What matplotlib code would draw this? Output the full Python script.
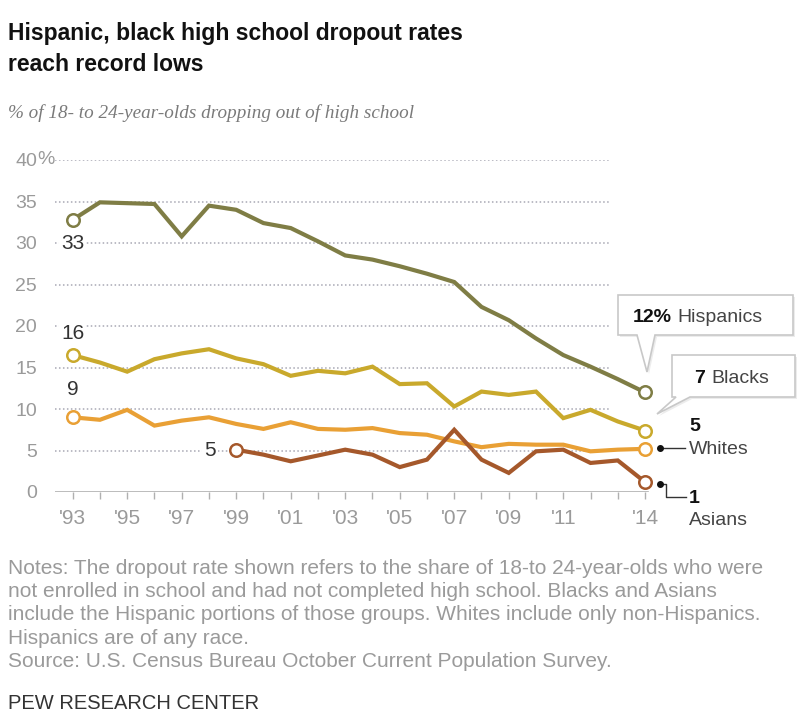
import numpy as np
import matplotlib
matplotlib.use("Agg")
import matplotlib.pyplot as plt
from matplotlib.patches import Polygon

W, H = 806, 715

years = list(range(1993, 2015))
hispanic = [32.8, 34.9, 34.8, 34.7, 30.8, 34.5, 34.0, 32.4, 31.8, 30.2, 28.5,
            28.0, 27.2, 26.3, 25.3, 22.3, 20.7, 18.5, 16.5, 15.1, 13.6, 12.0]
black = [16.5, 15.6, 14.5, 16.0, 16.7, 17.2, 16.1, 15.4, 14.0, 14.6, 14.3,
         15.1, 13.0, 13.1, 10.3, 12.1, 11.7, 12.1, 8.9, 9.9, 8.5, 7.4]
white = [9.0, 8.7, 9.9, 8.0, 8.6, 9.0, 8.2, 7.6, 8.4, 7.6, 7.5,
         7.7, 7.1, 6.9, 6.1, 5.4, 5.8, 5.7, 5.7, 4.9, 5.1, 5.2]
asian_years = list(range(1999, 2015))
asian = [5.1, 4.5, 3.7, 4.4, 5.1, 4.5, 3.0, 3.9, 7.5, 3.9, 2.3, 4.9, 5.1, 3.5, 3.8, 1.2]

yticks = [0, 5, 10, 15, 20, 25, 30, 35, 40]
xlabel_years = [1993, 1995, 1997, 1999, 2001, 2003, 2005, 2007, 2009, 2011, 2014]

c_hisp = "#7f7d45"
c_black = "#c9a92c"
c_white = "#e9a035"
c_asian = "#a5582b"

plt.rcParams["font.family"] = ["Liberation Sans", "DejaVu Sans"]


def px(x, y):
    # pixel position (top-left origin) -> figure fraction
    return x / W, 1 - y / H


def main():
    fig = plt.figure(figsize=(W / 100, H / 100), dpi=100)
    ax = fig.add_axes([55 / W, 1 - 492 / H, (660 - 55) / W, (492 - 160) / H])
    ax.set_xlim(1993 - 17.7 / 27.3, 2014 + 15 / 27.3)
    ax.set_ylim(0, 40)
    for s in ax.spines.values():
        s.set_visible(False)

    # dotted grid lines, stop before the last year
    for v in yticks[1:]:
        ax.plot([1992.35, 2012.7], [v, v], color="#a8a8b4", lw=1.1,
                linestyle=(0, (1, 1.6)), zorder=1)
    ax.plot([1992.35, 2014.1], [0, 0], color="#b0b0b0", lw=1.2, zorder=1)

    ax.set_yticks(yticks)
    ax.set_yticklabels([str(v) for v in yticks])
    ax.tick_params(axis="y", length=0, pad=13, labelsize=14, labelcolor="#9a9a9a")
    ax.text(-18 / 605, 40, "%", transform=ax.get_yaxis_transform(),
            ha="left", va="center", fontsize=14, color="#9a9a9a")

    ax.set_xticks(years)
    ax.set_xticklabels(["'" + str(y)[2:] if y in xlabel_years else "" for y in years])
    ax.tick_params(axis="x", length=5, width=1, color="#b0b0b0", pad=7,
                   labelsize=15, labelcolor="#9a9a9a")

    series = [(years, white, c_white, 2), (asian_years, asian, c_asian, 3),
              (years, black, c_black, 4), (years, hispanic, c_hisp, 5)]
    for xs, ys, col, z in series:
        ax.plot(xs, ys, color=col, lw=3, solid_joinstyle="miter", zorder=z, clip_on=False)
        ax.plot([xs[0], xs[-1]], [ys[0], ys[-1]], "o", ms=9, mfc="white", mec=col,
                mew=1.8, zorder=z + 0.5, clip_on=False)

    # start labels
    lab = dict(fontsize=15, color="#333333", ha="center", va="center", zorder=6,
               bbox=dict(facecolor="white", edgecolor="none", pad=1.5))
    ax.text(years[0], 29.9, str(round(hispanic[0])), **lab)
    ax.text(years[0], 19.1, str(round(black[0])), **lab)
    ax.text(years[0], 12.3, str(round(white[0])), **lab)
    ax.text(asian_years[0] - 0.95, 5.0, str(round(asian[0])), **lab)

    # callout boxes
    def callout(pts):
        P = [px(x, y) for x, y in pts]
        shadow = [(a + 2 / W, b - 2 / H) for a, b in P]
        fig.patches.append(Polygon(shadow, closed=True, transform=fig.transFigure,
                                   facecolor="#ececec", edgecolor="none", zorder=9))
        fig.patches.append(Polygon(P, closed=True, transform=fig.transFigure,
                                   facecolor="white", edgecolor="#c8c8c8", lw=1.2, zorder=10))

    callout([(618, 295), (793, 295), (793, 335), (655, 335), (647, 372), (637, 335), (618, 335)])
    callout([(672, 355), (795, 355), (795, 397), (690, 397), (657, 414), (676, 397), (672, 397)])

    fs = 14
    fig.text(*px(633, 322), "%d%%" % round(hispanic[-1]), fontsize=fs, weight="bold",
             color="#111111", zorder=11)
    fig.text(*px(677, 322), "Hispanics", fontsize=fs, color="#444444", zorder=11)
    fig.text(*px(694, 383), str(round(black[-1])), fontsize=fs, weight="bold",
             color="#111111", zorder=11)
    fig.text(*px(711, 383), "Blacks", fontsize=fs, color="#444444", zorder=11)

    fig.text(*px(689, 431), str(round(white[-1])), fontsize=fs, weight="bold", color="#111111")
    fig.text(*px(689, 454), "Whites", fontsize=fs, color="#444444")
    fig.text(*px(689, 503), str(round(asian[-1])), fontsize=fs, weight="bold", color="#111111")
    fig.text(*px(689, 525), "Asians", fontsize=fs, color="#444444")

    def leader(pts):
        xs, ys = zip(*[px(x, y) for x, y in pts])
        fig.add_artist(plt.Line2D(xs, ys, color="#333333", lw=1, transform=fig.transFigure))
        fig.add_artist(plt.Line2D([xs[0]], [ys[0]], marker="o", ms=4, color="#111111",
                                  transform=fig.transFigure))

    leader([(660, 448), (685, 448)])
    leader([(660, 484), (666, 484), (666, 497), (686, 497)])

    # titles
    fig.text(*px(8, 40), "Hispanic, black high school dropout rates",
             weight="bold", fontsize=16.5, color="#111111")
    fig.text(*px(8, 71), "reach record lows",
             weight="bold", fontsize=16.5, color="#111111")
    fig.text(*px(8, 118), "% of 18- to 24-year-olds dropping out of high school",
             family=["Liberation Serif", "DejaVu Serif"], style="italic",
             fontsize=13.8, color="#7a7a7a")

    notes = ["Notes: The dropout rate shown refers to the share of 18-to 24-year-olds who were",
             "not enrolled in school and had not completed high school. Blacks and Asians",
             "include the Hispanic portions of those groups. Whites include only non-Hispanics.",
             "Hispanics are of any race.",
             "Source: U.S. Census Bureau October Current Population Survey."]
    for i, line in enumerate(notes):
        fig.text(*px(8, 574 + 23.2 * i), line, fontsize=15, color="#9a9a9a")
    fig.text(*px(8, 709), "PEW RESEARCH CENTER", fontsize=14.5, color="#333333")

    fig.savefig("out.png", dpi=100, facecolor="white")


if __name__ == '__main__':
    main()
